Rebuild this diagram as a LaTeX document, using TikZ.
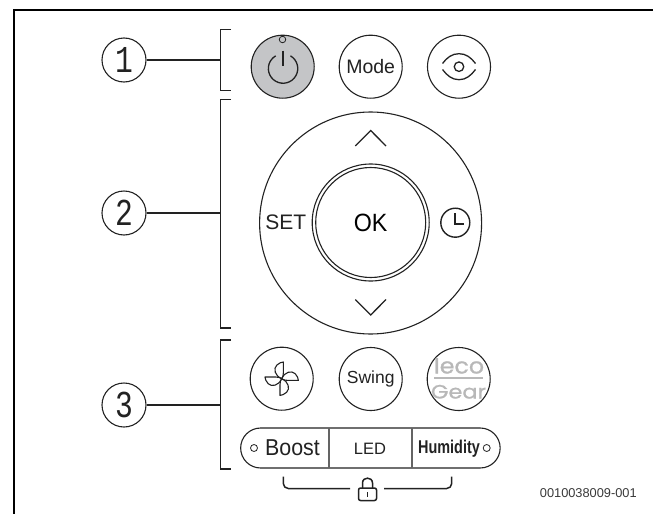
\documentclass[tikz,border=0pt]{standalone}
\usepackage{fontspec}
\setmainfont{Liberation Sans}
\newfontfamily\numfont{Liberation Mono}
\newfontfamily\ecofont[FakeBold=1]{Poppins}
\usetikzlibrary{calc}
\definecolor{ink}{HTML}{222222}
\definecolor{ecogrey}{HTML}{B8B8B8}
\definecolor{powergrey}{HTML}{C4C5C7}
\newcommand{\fsz}[1]{\fontsize{#1}{#1}\selectfont}
\tikzset{
  x=1pt,y=-1pt,
  line/.style={draw=ink,line width=1.1pt},
  frameline/.style={draw=black,line width=2pt},
  callout/.style={circle,draw=ink,line width=1.1pt,minimum size=44pt,inner sep=0pt,text=ink,font=\numfont\fsz{38}},
  btn/.style={circle,draw=ink,line width=1.1pt,minimum size=63pt,inner sep=0pt,text=ink},
  lbl/.style={inner sep=0pt,text=ink},
  tiny ring/.style={circle,draw=ink,line width=0.8pt,inner sep=0pt,minimum size=7pt},
}
\begin{document}
\begin{tikzpicture}
\useasboundingbox (0,0) rectangle (653,514);
% frame
\draw[frameline] (653,10) -- (13.5,10) -- (13.5,514);
% callouts
\node[callout] (n1) at (124,60) {\scalebox{0.78}[1]{1}};
\node[callout] (n2) at (124,213) {\scalebox{0.78}[1]{2}};
\node[callout] (n3) at (124,405) {\scalebox{0.78}[1]{3}};
\coordinate (b1) at (220.5,60);
\coordinate (b2) at (220.5,213);
\coordinate (b3) at (220.5,405);
\draw[line] (n1) -- (b1);
\draw[line] (n2) -- (b2);
\draw[line] (n3) -- (b3);
\draw[line] (231,29.5) -- (220.5,29.5) -- (220.5,90.5) -- (231,90.5);
\draw[line] (231,99.5) -- (220.5,99.5) -- (220.5,328) -- (231,328);
\draw[line] (231,340) -- (220.5,340) -- (220.5,469) -- (231,469);
% top row
\node[btn,fill=powergrey] (power) at (282.7,66.7) {};
\node[tiny ring,minimum size=6.5pt] (led) at (282.5,39.5) {};
\draw[line,line width=1.3pt] (290.4,55.8) arc[start angle=60,delta angle=-300,radius=14.7pt];
\draw[line,line width=1.3pt] (283,50.7) -- (283,66);
\node[btn,font=\fsz{19.5}] (mode) at (370.7,66.7) {Mode};
\node[btn] (eye) at (459,66.7) {};
\draw[line,line width=1.3pt] (442.5,63.5) .. controls (447,57.5) and (452,53.7) .. (459,53.7) .. controls (466,53.7) and (471,57.5) .. (475.5,63.5);
\draw[line,line width=1.3pt] (442.5,69.5) .. controls (447,75.5) and (452,79.7) .. (459,79.7) .. controls (466,79.7) and (471,75.5) .. (475.5,69.5);
\node[circle,draw=ink,line width=1.3pt,minimum size=9.5pt,inner sep=0pt] (pupil) at (459,66.7) {};
% d-pad
\node[circle,draw=ink,line width=1.1pt,minimum size=222pt,inner sep=0pt] (pad) at (370.6,223) {};
\node[circle,draw=ink,line width=1.1pt,minimum size=117pt,inner sep=0pt] (okouter) at (370.7,222.5) {};
\node[circle,draw=ink,line width=1.1pt,minimum size=110pt,inner sep=0pt,font=\fsz{25}] (ok) at (370.7,222.5) {\scalebox{0.93}[1]{OK}};
\draw[line,line width=1.3pt] (355.3,146) -- (370.7,130.5) -- (386,146);
\draw[line,line width=1.3pt] (355.3,299.5) -- (370.7,315) -- (386,299.5);
\node[lbl,font=\fsz{21}] (set) at (285.7,222.7) {SET};
\node[circle,draw=ink,line width=1.4pt,minimum size=29pt,inner sep=0pt] (clock) at (455.3,222.7) {};
\draw[line,line width=1.4pt] (455,213) -- (455,224) -- (464,224);
% lower row
\node[btn] (fan) at (281.7,378.7) {};
\foreach \a in {0,90,180,270}{
  \begin{scope}[shift={(fan.center)},rotate=\a]
    \draw[line,line join=round] (0,0) .. controls (-7,-3) and (-8.5,-10) .. (-5,-13.5)
      .. controls (-3,-15.6) and (0,-16.7) .. (1.7,-16.7) -- (1.7,-6)
      .. controls (1.7,-3) and (1,-1) .. (0,0);
  \end{scope}
}
\node[btn,font=\fsz{17.5}] (swing) at (370.7,379) {Swing};
\node[btn] (eco) at (458.7,379) {};
\node[inner sep=0pt,anchor=base,text=ecogrey,font=\ecofont\fsz{22}] (ecotop) at (459,373.5) {\scalebox{1.08}[1]{Ieco}};
\node[inner sep=0pt,anchor=base,text=ecogrey,font=\ecofont\fsz{22}] (ecobot) at (458.5,398.5) {\scalebox{1.02}[0.88]{Gear}};
\draw[draw=ecogrey,line width=1.8pt] (434,378) -- (483,378);
% pill
\node[draw=ink,line width=1.1pt,rounded corners=20pt,minimum width=259.5pt,minimum height=40pt,inner sep=0pt] (pill) at (370.4,448) {};
\draw[draw=ink!70,line width=2.4pt] (328.7,428) -- (328.7,468);
\draw[draw=ink!70,line width=2.4pt] (412,428) -- (412,468);
\node[tiny ring] (ringl) at (254,448) {};
\node[tiny ring] (ringr) at (486.7,448) {};
\node[lbl,font=\fsz{23}] (boost) at (292.5,447.5) {\scalebox{0.93}[1]{Boost}};
\node[lbl,font=\fsz{16.5}] (ledtxt) at (370,448.5) {LED};
\node[lbl,font=\bfseries\fsz{18.5}] (hum) at (449,448.5) {\scalebox{0.78}[1]{Humidity}};
% lock
\draw[line,line width=1.5pt,rounded corners=5pt] (283.3,476.7) -- (283.3,488.5) -- (350,488.5);
\draw[line,line width=1.5pt,rounded corners=5pt] (451.7,476.7) -- (451.7,488.5) -- (384,488.5);
\draw[line,line width=1.5pt,rounded corners=2pt] (358.5,488) rectangle (376.5,500.5);
\draw[line,line width=1.5pt] (362.5,488) -- (362.5,483) .. controls (362.5,476.5) and (372.5,476.5) .. (372.5,483) -- (372.5,488);
\draw[line,line width=1.5pt] (367.5,492) -- (367.5,497);
% caption
\node[inner sep=0pt,text=ink!90,font=\fsz{12.8}] (code) at (588.3,493) {0010038009-001};
\end{tikzpicture}
\end{document}
